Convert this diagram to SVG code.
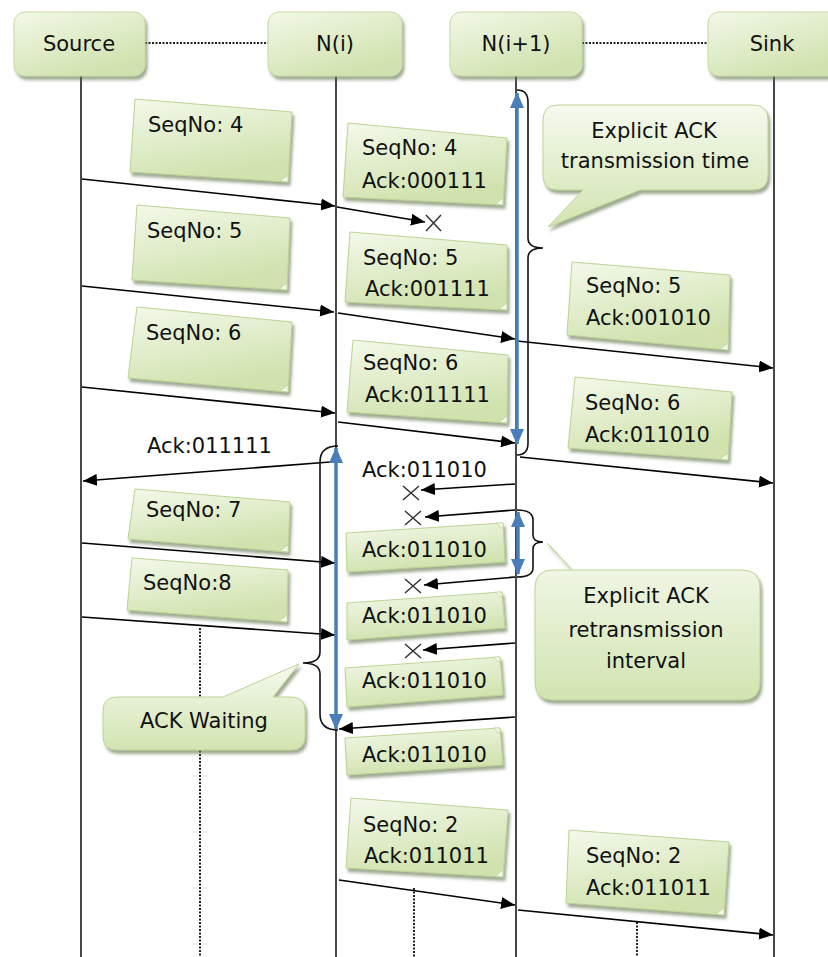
<svg xmlns="http://www.w3.org/2000/svg" width="828" height="957" viewBox="0 0 828 957">
  <defs>
    <linearGradient id="gHead" x1="0" y1="0" x2="0.6" y2="1">
      <stop offset="0" stop-color="#f2f8e8"/>
      <stop offset="1" stop-color="#d0e2ad"/>
    </linearGradient>
    <linearGradient id="gNote" x1="0" y1="0" x2="0.35" y2="1">
      <stop offset="0" stop-color="#f3f9ea"/>
      <stop offset="1" stop-color="#d0e2ad"/>
    </linearGradient>
    <linearGradient id="gCall" x1="0" y1="0" x2="0" y2="1">
      <stop offset="0" stop-color="#f5faee"/>
      <stop offset="1" stop-color="#d2e4b1"/>
    </linearGradient>
    <filter id="shadow" x="-10%" y="-10%" width="125%" height="140%">
      <feDropShadow dx="2" dy="3.5" stdDeviation="1.5" flood-color="#5f704a" flood-opacity="0.6"/>
    </filter>
    <marker id="ah" viewBox="0 0 14 12" refX="14" refY="6" markerWidth="14" markerHeight="12" markerUnits="userSpaceOnUse" orient="auto">
      <path d="M0,0 L14,6 L0,12 z" fill="#000"/>
    </marker>
    <marker id="bh" viewBox="0 0 16 14" refX="15" refY="7" markerWidth="16" markerHeight="14" markerUnits="userSpaceOnUse" orient="auto-start-reverse">
      <path d="M0,0 L16,7 L0,14 z" fill="#4a7ebb"/>
    </marker>
    <style>
      .t { font-family: "DejaVu Sans", "Liberation Sans", sans-serif; font-size: 21px; fill: #111; }
      .c { text-anchor: middle; }
      .head { fill: url(#gHead); stroke: #c6daa4; stroke-width: 1; filter: url(#shadow); }
      .note { fill: url(#gNote); stroke: #bcd394; stroke-width: 1; filter: url(#shadow); }
      .curl { fill: #f4f9ec; stroke: #bcd394; stroke-width: 0.8; }
      .call { fill: url(#gCall); stroke: #bcd494; stroke-width: 1; filter: url(#shadow); }
      .life { stroke: #1a1a1a; stroke-width: 1.6; fill: none; }
      .dot { stroke: #222; stroke-width: 2; stroke-dasharray: 2 1.5; fill: none; }
      .msg { stroke: #000; stroke-width: 1.6; fill: none; marker-end: url(#ah); }
      .blue { stroke: #4a7ebb; stroke-width: 3.5; fill: none; marker-start: url(#bh); marker-end: url(#bh); }
      .brace { stroke: #111; stroke-width: 1.6; fill: none; }
      .x { stroke: #333; stroke-width: 1.5; fill: none; }
    </style>
  </defs>

  <rect width="828" height="957" fill="#ffffff"/>

  <!-- lifelines and dotted links between the headers -->
  <g id="lifelines">
    <line class="life" x1="81" y1="76" x2="81" y2="957"/>
    <line class="life" x1="336" y1="76" x2="336" y2="957"/>
    <line class="life" x1="516" y1="76" x2="516" y2="957"/>
    <line class="life" x1="774" y1="76" x2="774" y2="957"/>
    <line class="dot" x1="145" y1="43" x2="268" y2="43"/>
    <line class="dot" x1="582" y1="43" x2="708" y2="43"/>
    <line class="dot" x1="200" y1="628" x2="200" y2="957"/>
    <line class="dot" x1="414" y1="888" x2="414" y2="957"/>
    <line class="dot" x1="637" y1="922" x2="637" y2="957"/>
  </g>

  <!-- participant headers -->
  <g id="source">
    <rect class="head" x="14" y="12" width="131" height="64" rx="11"/>
    <text class="t c" x="79" y="51">Source</text>
  </g>
  <g id="node-i">
    <rect class="head" x="268" y="12" width="134" height="64" rx="11"/>
    <text class="t c" x="335" y="51">N(i)</text>
  </g>
  <g id="node-i1">
    <rect class="head" x="450" y="12" width="132" height="64" rx="11"/>
    <text class="t c" x="516" y="51">N(i+1)</text>
  </g>
  <g id="sink">
    <rect class="head" x="708" y="12" width="134" height="64" rx="11"/>
    <text class="t c" x="772" y="51">Sink</text>
  </g>

  <!-- packet notes: Source to N(i) -->
  <g id="note-src-4">
    <polygon class="note" points="135,99 292,112 288,182 130,172"/>
    <path class="curl" d="M288,175 L288,182 L280,181 z"/>
    <text class="t" x="148" y="132">SeqNo: 4</text>
  </g>
  <g id="note-src-5">
    <polygon class="note" points="137,205 290,218 287,290 132,280"/>
    <path class="curl" d="M287,283 L287,290 L279,289 z"/>
    <text class="t" x="147" y="238">SeqNo: 5</text>
  </g>
  <g id="note-src-6">
    <polygon class="note" points="137,307 292,322 288,392 128,378"/>
    <path class="curl" d="M288,385 L288,392 L280,391 z"/>
    <text class="t" x="146" y="340">SeqNo: 6</text>
  </g>
  <g id="note-src-7">
    <polygon class="note" points="135,489 290,502 288,552 128,539"/>
    <path class="curl" d="M288,545 L288,552 L280,551 z"/>
    <text class="t" x="146" y="517">SeqNo: 7</text>
  </g>
  <g id="note-src-8">
    <polygon class="note" points="132,558 288,570 287,622 127,610"/>
    <path class="curl" d="M287,615 L287,622 L279,621 z"/>
    <text class="t" x="143" y="590">SeqNo:8</text>
  </g>

  <!-- packet notes: N(i) to N(i+1) -->
  <g id="note-ni-4">
    <polygon class="note" points="348,123 507,138 503,205 343,197"/>
    <path class="curl" d="M503,198 L503,205 L495,204 z"/>
    <text class="t" x="362" y="155">SeqNo: 4</text>
    <text class="t" x="362" y="188">Ack:000111</text>
  </g>
  <g id="note-ni-5">
    <polygon class="note" points="350,232 507,245 507,310 345,302"/>
    <path class="curl" d="M507,303 L507,310 L499,309 z"/>
    <text class="t" x="363" y="265">SeqNo: 5</text>
    <text class="t" x="365" y="296">Ack:001111</text>
  </g>
  <g id="note-ni-6">
    <polygon class="note" points="353,340 508,355 507,423 347,412"/>
    <path class="curl" d="M507,416 L507,423 L499,422 z"/>
    <text class="t" x="363" y="370">SeqNo: 6</text>
    <text class="t" x="365" y="402">Ack:011111</text>
  </g>
  <g id="note-ack-1">
    <polygon class="note" points="346,533 503,523 505,562 347,572"/>
    <path class="curl" d="M496,523 L503,523 L503,529 z"/>
    <text class="t" x="362" y="557">Ack:011010</text>
  </g>
  <g id="note-ack-2">
    <polygon class="note" points="347,603 502,592 505,628 347,640"/>
    <path class="curl" d="M495,592 L502,592 L502,598 z"/>
    <text class="t" x="362" y="623">Ack:011010</text>
  </g>
  <g id="note-ack-3">
    <polygon class="note" points="345,668 500,657 503,695 347,707"/>
    <path class="curl" d="M493,657 L500,657 L500,663 z"/>
    <text class="t" x="362" y="688">Ack:011010</text>
  </g>
  <g id="note-ack-4">
    <polygon class="note" points="345,738 500,728 503,765 347,775"/>
    <path class="curl" d="M493,728 L500,728 L500,734 z"/>
    <text class="t" x="362" y="762">Ack:011010</text>
  </g>
  <g id="note-ni-2">
    <polygon class="note" points="351,798 508,810 503,877 346,868"/>
    <path class="curl" d="M503,870 L503,877 L495,876 z"/>
    <text class="t" x="363" y="832">SeqNo: 2</text>
    <text class="t" x="364" y="863">Ack:011011</text>
  </g>

  <!-- packet notes: N(i+1) to Sink -->
  <g id="note-sink-5">
    <polygon class="note" points="572,262 730,275 728,350 567,335"/>
    <path class="curl" d="M728,343 L728,350 L720,349 z"/>
    <text class="t" x="586" y="293">SeqNo: 5</text>
    <text class="t" x="586" y="325">Ack:001010</text>
  </g>
  <g id="note-sink-6">
    <polygon class="note" points="575,377 732,392 728,460 568,448"/>
    <path class="curl" d="M728,453 L728,460 L720,459 z"/>
    <text class="t" x="585" y="410">SeqNo: 6</text>
    <text class="t" x="585" y="442">Ack:011010</text>
  </g>
  <g id="note-sink-2">
    <polygon class="note" points="569,830 729,842 724,915 566,903"/>
    <path class="curl" d="M724,908 L724,915 L716,914 z"/>
    <text class="t" x="586" y="863">SeqNo: 2</text>
    <text class="t" x="586" y="895">Ack:011011</text>
  </g>

  <!-- callouts -->
  <g id="callout-tx-time">
    <path class="call" d="M558,105 L753,105 Q768,105 768,120 L768,175 Q768,190 753,190 L640,190 L548,227 L583,190 L558,190 Q543,190 543,175 L543,120 Q543,105 558,105 z"/>
    <text class="t c" x="654" y="138">Explicit ACK</text>
    <text class="t c" x="655" y="168">transmission time</text>
  </g>
  <g id="callout-retx">
    <path class="call" d="M547,543 L572,570 L625,570 L742,570 Q760,570 760,588 L760,682 Q760,700 742,700 L553,700 Q535,700 535,682 L535,588 Q535,570 553,570 L572,570 z"/>
    <text class="t c" x="646" y="603">Explicit ACK</text>
    <text class="t c" x="646" y="637">retransmission</text>
    <text class="t c" x="646" y="668">interval</text>
  </g>
  <g id="callout-ack-wait">
    <path class="call" d="M117,697 L223,697 L299,664 L273,697 L291,697 Q305,697 305,711 L305,736 Q305,750 291,750 L117,750 Q103,750 103,736 L103,711 Q103,697 117,697 z"/>
    <text class="t c" x="204" y="728">ACK Waiting</text>
  </g>

  <!-- messages, loss marks, intervals -->
  <g id="connectors">
    <line class="msg" x1="82" y1="179" x2="335" y2="206"/>
    <line class="msg" x1="337" y1="207" x2="425" y2="222"/>
    <line class="msg" x1="82" y1="286" x2="334" y2="312"/>
    <line class="msg" x1="338" y1="313" x2="515" y2="339"/>
    <line class="msg" x1="517" y1="341" x2="773" y2="368"/>
    <line class="msg" x1="82" y1="387" x2="335" y2="413"/>
    <line class="msg" x1="338" y1="422" x2="515" y2="443"/>
    <line class="msg" x1="520" y1="457" x2="773" y2="483"/>
    <line class="msg" x1="330" y1="462" x2="83" y2="481"/>
    <line class="msg" x1="515" y1="484" x2="421" y2="490"/>
    <line class="msg" x1="515" y1="510" x2="425" y2="517"/>
    <line class="msg" x1="515" y1="577" x2="424" y2="585"/>
    <line class="msg" x1="515" y1="643" x2="423" y2="650"/>
    <line class="msg" x1="515" y1="717" x2="339" y2="729"/>
    <line class="msg" x1="82" y1="543" x2="335" y2="563"/>
    <line class="msg" x1="82" y1="617" x2="335" y2="635"/>
    <line class="msg" x1="339" y1="880" x2="515" y2="905"/>
    <line class="msg" x1="518" y1="910" x2="773" y2="935"/>

    <path class="x" d="M426,215 L441,231 M426,231 L441,215"/>
    <path class="x" d="M403,486 L419,500 M403,500 L419,486"/>
    <path class="x" d="M405,511 L421,525 M405,525 L421,511"/>
    <path class="x" d="M405,579 L421,593 M405,593 L421,579"/>
    <path class="x" d="M405,644 L421,658 M405,658 L421,644"/>

    <path class="brace" d="M517,90 Q528,90 528,102 L528,238 Q528,248 543,248 Q528,248 528,258 L528,443 Q528,455 517,455"/>
    <path class="brace" d="M338,446 Q320,446 320,462 L320,652 Q320,663 303,663 Q320,663 320,674 L320,714 Q320,730 338,730"/>
    <path class="brace" d="M517,510 Q533,510 533,520 L533,535 Q533,542 543,542 Q533,542 533,549 L533,568 Q533,577 517,577"/>

    <line class="blue" x1="517" y1="93" x2="517" y2="444"/>
    <line class="blue" x1="336" y1="448" x2="336" y2="729"/>
    <line class="blue" x1="518" y1="512" x2="518" y2="574"/>

    <text class="t" x="147" y="453">Ack:011111</text>
    <text class="t" x="362" y="477">Ack:011010</text>
  </g>
</svg>
